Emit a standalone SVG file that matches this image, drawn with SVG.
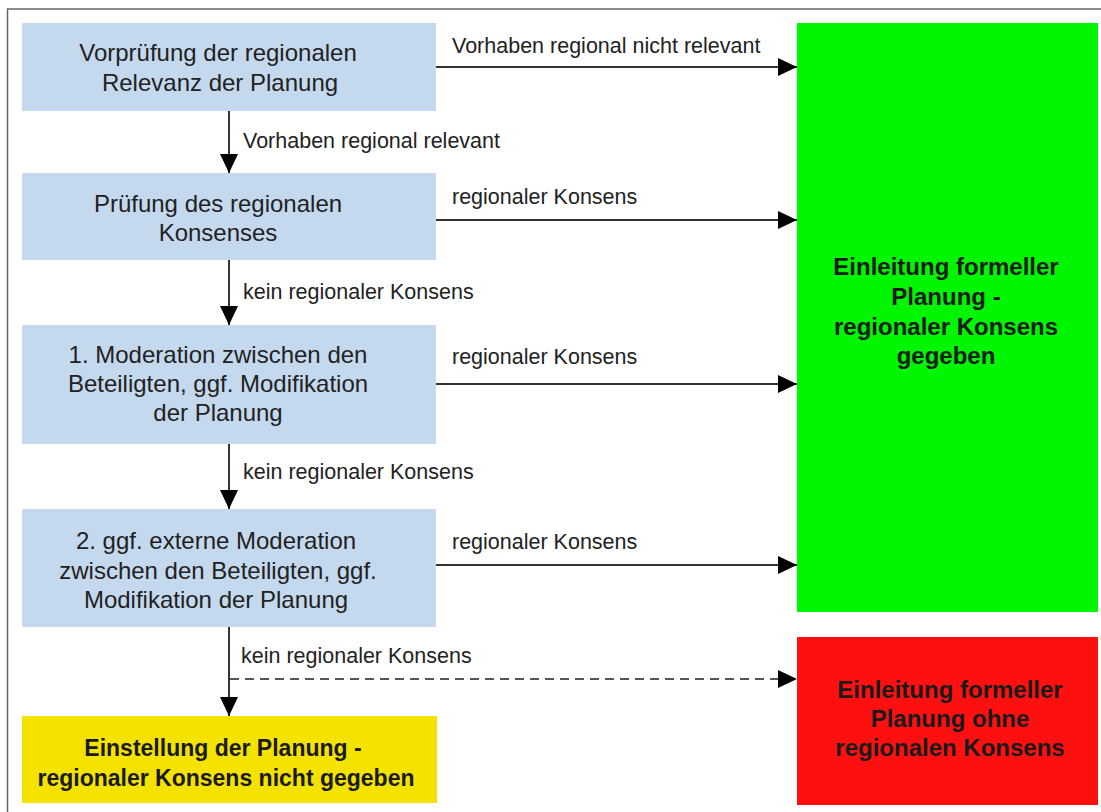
<svg xmlns="http://www.w3.org/2000/svg" width="1101" height="812" viewBox="0 0 1101 812">
  <style>
    .step { fill: #c5d9ee; }
    .t { font-family: "Liberation Sans", Arial, sans-serif; font-size: 24px; fill: #222; text-anchor: middle; }
    .tb { font-family: "Liberation Sans", Arial, sans-serif; font-size: 24px; font-weight: bold; fill: #1a1a1a; text-anchor: middle; }
    .lbl { font-family: "Liberation Sans", Arial, sans-serif; font-size: 21.5px; fill: #222; }
    .edge { stroke: #333; stroke-width: 2; fill: none; }
    .dash { stroke: #555; stroke-width: 2; fill: none; stroke-dasharray: 9 6; }
  </style>
  <defs>
    <marker id="arrow" markerUnits="userSpaceOnUse" markerWidth="19" markerHeight="18" refX="19" refY="9" orient="auto">
      <path d="M0,0 L19,9 L0,18 Z" fill="#000"/>
    </marker>
  </defs>

  <rect width="1101" height="812" fill="#fff"/>
  <!-- outer frame -->
  <rect x="7.5" y="9" width="1110" height="820" fill="none" stroke="#666" stroke-width="1.5"/>

  <g id="n1">
    <rect class="step" x="22" y="23" width="414" height="88"/>
    <text class="t" x="218" y="61">Vorprüfung der regionalen</text>
    <text class="t" x="220" y="91">Relevanz der Planung</text>
  </g>
  <g id="n2">
    <rect class="step" x="22" y="173" width="414" height="87"/>
    <text class="t" x="218" y="212">Prüfung des regionalen</text>
    <text class="t" x="218" y="241">Konsenses</text>
  </g>
  <g id="n3">
    <rect class="step" x="22" y="325" width="414" height="119"/>
    <text class="t" x="218" y="363">1. Moderation zwischen den</text>
    <text class="t" x="218" y="392">Beteiligten, ggf. Modifikation</text>
    <text class="t" x="218" y="421">der Planung</text>
  </g>
  <g id="n4">
    <rect class="step" x="22" y="509" width="414" height="118"/>
    <text class="t" x="216" y="549">2. ggf. externe Moderation</text>
    <text class="t" x="218" y="579">zwischen den Beteiligten, ggf.</text>
    <text class="t" x="216" y="608">Modifikation der Planung</text>
  </g>
  <g id="n5">
    <rect x="22" y="716" width="415" height="87" fill="#f4e300"/>
    <text class="tb" x="223" y="756" font-size="23" style="font-size:23px">Einstellung der Planung -</text>
    <text class="tb" x="226" y="786" style="font-size:23px">regionaler Konsens nicht gegeben</text>
  </g>
  <g id="n6">
    <rect x="797" y="23" width="301" height="589" fill="#00f600"/>
    <text class="tb" x="946" y="275">Einleitung formeller</text>
    <text class="tb" x="946" y="305">Planung -</text>
    <text class="tb" x="946" y="335">regionaler Konsens</text>
    <text class="tb" x="946" y="364">gegeben</text>
  </g>
  <g id="n7">
    <rect x="797" y="637" width="301" height="168" fill="#ff1010"/>
    <text class="tb" x="950" y="698">Einleitung formeller</text>
    <text class="tb" x="950" y="727">Planung ohne</text>
    <text class="tb" x="950" y="756">regionalen Konsens</text>
  </g>

  <g id="connectors">
    <line class="edge" x1="436" y1="67" x2="797" y2="67" marker-end="url(#arrow)"/>
    <line class="edge" x1="229" y1="111" x2="229" y2="173" marker-end="url(#arrow)"/>
    <line class="edge" x1="436" y1="220" x2="797" y2="220" marker-end="url(#arrow)"/>
    <line class="edge" x1="229" y1="260" x2="229" y2="325" marker-end="url(#arrow)"/>
    <line class="edge" x1="436" y1="384" x2="797" y2="384" marker-end="url(#arrow)"/>
    <line class="edge" x1="229" y1="444" x2="229" y2="509" marker-end="url(#arrow)"/>
    <line class="edge" x1="436" y1="565" x2="797" y2="565" marker-end="url(#arrow)"/>
    <line class="edge" x1="229" y1="627" x2="229" y2="716" marker-end="url(#arrow)"/>
    <line class="dash" x1="230" y1="679" x2="797" y2="679" marker-end="url(#arrow)"/>

    <text class="lbl" x="452" y="53">Vorhaben regional nicht relevant</text>
    <text class="lbl" x="243" y="148">Vorhaben regional relevant</text>
    <text class="lbl" x="452" y="204">regionaler Konsens</text>
    <text class="lbl" x="243" y="299">kein regionaler Konsens</text>
    <text class="lbl" x="452" y="364">regionaler Konsens</text>
    <text class="lbl" x="243" y="479">kein regionaler Konsens</text>
    <text class="lbl" x="452" y="549">regionaler Konsens</text>
    <text class="lbl" x="241" y="663">kein regionaler Konsens</text>
  </g>
</svg>
